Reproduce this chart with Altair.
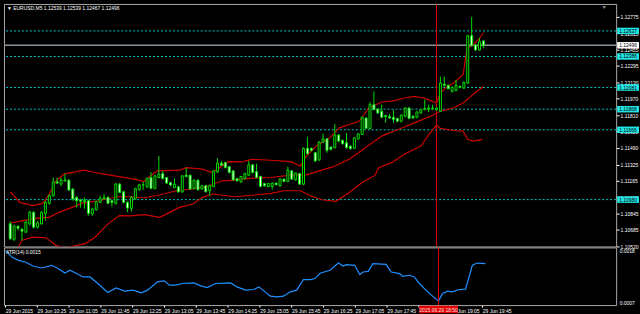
import altair as alt
import pandas as pd

FONT = "Liberation Sans"
GREEN = "#00dd00"
RED = "#cc0000"
CYAN = "#00c8c8"
BOX_CYAN = "#22e6e6"

# ---------------- data ----------------
bars = list(range(1, 123))  # M5 bars, 09:45 .. 19:50, 29 Jun 2015
opens = [1.10742,1.10589,1.10719,1.10689,1.10660,1.10742,1.10855,1.10709,1.10742,1.10845,
         1.10943,1.11018,1.11155,1.11132,1.11165,1.11171,1.11084,1.11002,1.10976,1.10969,
         1.10969,1.10840,1.10879,1.10953,1.10989,1.11002,1.10969,1.10943,1.11132,1.11057,
         1.10953,1.10894,1.10989,1.11077,1.11123,1.11106,1.11197,1.11089,1.11197,1.11236,
         1.11197,1.11148,1.11099,1.11106,1.11057,1.11220,1.11220,1.11089,1.11171,1.11084,
         1.11116,1.11067,1.11109,1.11252,1.11337,1.11343,1.11304,1.11262,1.11187,1.11155,
         1.11187,1.11220,1.11321,1.11255,1.11207,1.11138,1.11109,1.11109,1.11142,1.11116,
         1.11181,1.11158,1.11262,1.11174,1.11236,1.11132,1.11484,1.11484,1.11441,1.11370,
         1.11545,1.11577,1.11496,1.11490,1.11614,1.11562,1.11538,1.11506,1.11484,1.11577,
         1.11620,1.11782,1.11679,1.11913,1.11870,1.11848,1.11806,1.11796,1.11789,1.11777,
         1.11750,1.11799,1.11880,1.11799,1.11789,1.11831,1.11864,1.11870,1.11874,1.11864,
         1.11848,1.12114,1.12102,1.12043,1.12053,1.12092,1.12075,1.12124,1.12590,1.12499,
         1.12450,1.12539]
highs = [1.10767,1.10735,1.10725,1.10701,1.10774,1.10872,1.10867,1.10767,1.10867,1.10965,
         1.11033,1.11197,1.11197,1.11197,1.11236,1.11181,1.11091,1.11013,1.10989,1.11002,
         1.10979,1.10901,1.10969,1.11018,1.11035,1.11013,1.10979,1.11145,1.11145,1.11067,
         1.10965,1.11013,1.11096,1.11135,1.11155,1.11199,1.11252,1.11223,1.11409,1.11262,
         1.11204,1.11155,1.11187,1.11116,1.11223,1.11294,1.11228,1.11179,1.11179,1.11126,
         1.11126,1.11126,1.11272,1.11386,1.11360,1.11350,1.11311,1.11272,1.11194,1.11213,
         1.11243,1.11360,1.11331,1.11333,1.11213,1.11145,1.11145,1.11150,1.11150,1.11189,
         1.11189,1.11304,1.11272,1.11248,1.11243,1.11492,1.11597,1.11492,1.11448,1.11555,
         1.11630,1.11584,1.11506,1.11724,1.11623,1.11570,1.11636,1.11511,1.11594,1.11633,
         1.11799,1.11789,1.11939,1.12043,1.11877,1.11913,1.11814,1.11821,1.11858,1.11784,
         1.11819,1.11887,1.11887,1.11809,1.11848,1.11872,1.11962,1.11913,1.11913,1.11887,
         1.12189,1.12189,1.12111,1.12092,1.12157,1.12102,1.12141,1.12599,1.12775,1.12507,
         1.12570,1.12539]
lows = [1.10584,1.10574,1.10677,1.10579,1.10650,1.10725,1.10696,1.10696,1.10735,1.10774,
        1.10930,1.11008,1.11135,1.11116,1.11155,1.11067,1.10969,1.10901,1.10901,1.10891,
        1.10823,1.10823,1.10872,1.10945,1.10979,1.10935,1.10911,1.10930,1.11043,1.10945,
        1.10855,1.10862,1.10979,1.11067,1.11074,1.11096,1.11082,1.11082,1.11189,1.11179,
        1.11135,1.11116,1.11091,1.11047,1.11047,1.11199,1.11077,1.11082,1.11067,1.11077,
        1.11052,1.11018,1.11101,1.11243,1.11311,1.11287,1.11238,1.11165,1.11155,1.11145,
        1.11179,1.11213,1.11238,1.11189,1.11101,1.11106,1.11101,1.11077,1.11121,1.11106,
        1.11150,1.11150,1.11174,1.11165,1.11126,1.11121,1.11423,1.11453,1.11350,1.11360,
        1.11535,1.11441,1.11462,1.11482,1.11545,1.11521,1.11482,1.11472,1.11477,1.11570,
        1.11614,1.11672,1.11672,1.11858,1.11823,1.11784,1.11734,1.11775,1.11734,1.11740,
        1.11740,1.11789,1.11770,1.11775,1.11779,1.11823,1.11858,1.11841,1.11862,1.11853,
        1.11843,1.12092,1.12063,1.12033,1.12043,1.12072,1.12067,1.12116,1.12482,1.12443,
        1.12443,1.12467]
closes = [1.10596,1.10719,1.10699,1.10670,1.10758,1.10855,1.10709,1.10752,1.10855,1.10953,
          1.11018,1.11155,1.11142,1.11171,1.11174,1.11074,1.10986,1.10969,1.10963,1.10960,
          1.10845,1.10888,1.10960,1.10992,1.10999,1.10943,1.10953,1.11132,1.11050,1.10953,
          1.10898,1.11002,1.11087,1.11126,1.11126,1.11187,1.11089,1.11213,1.11230,1.11187,
          1.11142,1.11123,1.11132,1.11057,1.11213,1.11207,1.11084,1.11171,1.11077,1.11116,
          1.11057,1.11116,1.11262,1.11337,1.11318,1.11294,1.11246,1.11174,1.11165,1.11207,
          1.11236,1.11321,1.11246,1.11197,1.11109,1.11116,1.11138,1.11142,1.11126,1.11181,
          1.11158,1.11269,1.11181,1.11240,1.11132,1.11484,1.11431,1.11464,1.11360,1.11545,
          1.11577,1.11464,1.11474,1.11614,1.11555,1.11529,1.11490,1.11480,1.11587,1.11626,
          1.11789,1.11679,1.11913,1.11864,1.11831,1.11789,1.11796,1.11782,1.11767,1.11750,
          1.11809,1.11880,1.11777,1.11782,1.11841,1.11864,1.11874,1.11880,1.11880,1.11880,
          1.12124,1.12102,1.12069,1.12082,1.12102,1.12082,1.12131,1.12590,1.12492,1.12450,
          1.12531,1.12496]

# Bollinger bands (20, 2) read at bar positions
upper_x = [1,3.5,6.8,9.3,11,12.7,14.75,19.75,22.7,27.7,32.7,35.2,38.5,44.3,46,50.2,52.7,56.8,60.2,62.7,
           67.7,72.7,75.2,76.4,79.3,82.7,85.2,87.7,90.2,92.7,96,99.3,101.8,104.3,106.8,108.5,110,111,112.7,114.3,
           116.8,117.8,119.3,121,122]
upper_y = [1.11057,1.10953,1.10921,1.10943,1.11035,1.11165,1.11230,1.11269,1.11246,1.11213,
           1.11181,1.11158,1.11262,1.11269,1.11294,1.11279,1.11246,1.11353,1.11350,1.11376,
           1.11367,1.11353,1.11311,1.11392,1.11506,1.11587,1.11685,1.11718,1.11750,1.11880,
           1.11939,1.11952,1.11978,1.11994,1.11978,1.11952,1.11929,1.12026,1.12092,1.12124,
           1.12206,1.12466,1.12499,1.12563,1.12622]
mid_x = [1,4.3,8.5,11,13.5,16.8,19.3,23.5,28.5,31.8,35.2,39.3,43.5,47.7,51.8,55.2,58.5,62.7,67.7,72.7,
         76.8,79.3,83.5,87.7,91.8,96,100.2,104.3,108.5,111,114.3,116.8,119.3,122]
mid_y = [1.10748,1.10774,1.10801,1.10806,1.10855,1.10904,1.10943,1.10969,1.11008,1.11008,
         1.10996,1.11028,1.11067,1.11084,1.11116,1.11165,1.11171,1.11191,1.11197,1.11220,
         1.11223,1.11255,1.11301,1.11376,1.11490,1.11604,1.11669,1.11734,1.11799,1.11848,
         1.11880,1.11929,1.12011,1.12092]
low_x = [1,3.1,3.9,6.8,10.2,12.7,14.75,16.8,20.2,22.7,26,28.9,31.8,35.2,39.3,41,44.3,47.7,50.2,52.7,
         58.5,62.7,67.7,71,75.2,77.7,81,84.3,87.7,91,94.3,95.2,98.5,101.8,106,108.1,110,111,114.3,116.8,
         118,119.3,121.8]
low_y = [1.10364,1.10514,1.10579,1.10611,1.10605,1.10530,1.10508,1.10520,1.10547,1.10611,
         1.10742,1.10823,1.10820,1.10833,1.10806,1.10840,1.10904,1.10937,1.11002,1.11035,
         1.11008,1.11023,1.11041,1.11067,1.11067,1.11018,1.10976,1.10963,1.11050,1.11148,
         1.11220,1.11294,1.11343,1.11425,1.11506,1.11620,1.11711,1.11679,1.11659,1.11653,
         1.11572,1.11555,1.11572]

# ATR(14)
atr_x = [1,2.7,4.3,6,8.1,10.2,12.7,14.3,16,17.3,18.9,20.6,22.3,24.3,26.8,28.9,31,33.1,35.2,36.8,
         39.3,41,42.3,43.9,45.6,48.5,50.2,51.8,53.9,57.7,59.3,61.4,63.5,64.8,67.7,69.3,71,72.7,74.3,76,
         77.7,78.9,80.2,82.7,84.8,86,86.8,88.9,90.2,91,92.3,93.5,96.8,98.1,100.2,101,102.7,103.9,105.2,106.8,
         108.5,110,111,112.3,113.5,115.2,116.8,118.5,119.8,121.8]
atr_v = [0.001800,0.001658,0.001589,0.001553,0.001462,0.001426,0.001483,0.001413,0.001320,0.001377,
         0.001307,0.001235,0.001235,0.001096,0.000905,0.001003,0.000933,0.000954,0.000897,0.000954,
         0.001130,0.001151,0.001060,0.001060,0.001096,0.001108,0.001045,0.001011,0.001096,0.001108,
         0.001024,0.000954,0.000969,0.001024,0.000827,0.000812,0.000827,0.000918,0.000954,0.001180,
         0.001180,0.001201,0.001313,0.001377,0.001531,0.001468,0.001497,0.001483,0.001286,0.001341,
         0.001355,0.001519,0.001504,0.001341,0.001307,0.001250,0.001271,0.001235,0.001096,0.000954,
         0.000827,0.000721,0.000884,0.000933,0.000918,0.000969,0.000976,0.001483,0.001531,0.001519]

# horizontal levels drawn on the chart and the bid
levels = [1.12637, 1.12386, 1.12081, 1.11868, 1.11666, 1.10980]
bid = 1.12496
cursor_bar = 110
cursor_label = "2015.06.29 18:50"

price_ticks = [1.12775, 1.12615, 1.12455, 1.12295, 1.12130, 1.11970, 1.11810, 1.11650,
               1.11490, 1.11325, 1.11165, 1.11005, 1.10845, 1.10685, 1.10520]
atr_ticks = [0.0018, 0.0007]
time_ticks = [1, 9, 17, 25, 33, 41, 49, 57, 65, 73, 81, 89, 97, 105, 113, 121]
time_labels = ["29 Jun 2015", "29 Jun 10:25", "29 Jun 11:05", "29 Jun 11:45", "29 Jun 12:25",
               "29 Jun 13:05", "29 Jun 13:45", "29 Jun 14:25", "29 Jun 15:05", "29 Jun 15:45",
               "29 Jun 16:25", "29 Jun 17:05", "29 Jun 17:45", "29 Jun 18:25", "29 Jun 19:05",
               "29 Jun 19:45"]
title_text = "\u25bc EURUSD,M5 1.12539 1.12539 1.12467 1.12496"
atr_title = "ATR(14) 0.0015"

# ---------------- chart ----------------
W, H_MAIN, H_ATR = 616, 244, 58
xs = alt.Scale(domain=[0.675, 154.675], nice=False, zero=False)
ys = alt.Scale(domain=[1.10520, 1.12902], nice=False, zero=False)
ys_atr = alt.Scale(domain=[0.000637, 0.001863], nice=False, zero=False)

candles = pd.DataFrame({"bar": bars, "open": opens, "high": highs, "low": lows, "close": closes})
candles["fill"] = ["black" if c >= o else "white" for o, c in zip(opens, closes)]

bands = pd.DataFrame({
    "bar": upper_x + mid_x + low_x,
    "price": upper_y + mid_y + low_y,
    "band": ["upper"] * len(upper_x) + ["mid"] * len(mid_x) + ["lower"] * len(low_x),
})

lvl = pd.DataFrame({"price": levels + [bid],
                    "label": [f"{v:.5f}" for v in levels + [bid]],
                    "box": [BOX_CYAN] * len(levels) + ["white"]})
lvl_only = pd.DataFrame({"price": levels})
cursor = pd.DataFrame({"bar": [cursor_bar], "label": [cursor_label]})

yaxis = alt.Axis(orient="right", values=price_ticks, format=".5f", labelFontSize=5,
                 labelFont=FONT, labelColor="white", tickColor="white", tickSize=3,
                 labelPadding=1, domain=False, grid=False, title=None,
                 labelOverlap=False, labelFlush=False)

X = alt.X("bar:Q", scale=xs, axis=None)


def Y(field):
    # every layer carries the identical axis spec so the merged axis keeps it
    return alt.Y(field, scale=ys, axis=yaxis, title=None)


hl = alt.Chart(lvl_only).mark_rule(color=CYAN, strokeDash=[2, 2], strokeWidth=1).encode(
    y=Y("price:Q"))
bidline = alt.Chart(pd.DataFrame({"price": [bid]})).mark_rule(
    color="#8a949e", strokeWidth=1.5).encode(y=Y("price:Q"))
vline = alt.Chart(cursor).mark_rule(color="#e00000", strokeWidth=1).encode(x=X)
band_lines = alt.Chart(bands).mark_line(color=RED, strokeWidth=1.2, clip=True).encode(
    x=X, y=Y("price:Q"), detail="band:N", order="bar:Q")
wicks = alt.Chart(candles).mark_rule(color=GREEN, strokeWidth=1).encode(
    x=X, y=Y("low:Q"), y2="high:Q")
bodies = alt.Chart(candles).mark_bar(size=2, stroke=GREEN, strokeWidth=1).encode(
    x=X, y=Y("open:Q"), y2="close:Q", fill=alt.Fill("fill:N", scale=None))
boxes = alt.Chart(lvl).mark_tick(orient="horizontal", size=22, thickness=6.5, opacity=1).encode(
    x=alt.value(W + 12), y=Y("price:Q"), color=alt.Color("box:N", scale=None))
box_text = alt.Chart(lvl).mark_text(align="left", baseline="middle", fontSize=5, font=FONT,
                                    color="black").encode(
    x=alt.value(W + 3), y=Y("price:Q"), text="label:N")
title = alt.Chart(pd.DataFrame({"t": [title_text]})).mark_text(
    align="left", baseline="middle", fontSize=5, font=FONT, color="white").encode(
    x=alt.value(3), y=alt.value(4), text="t:N")
shift_mark = alt.Chart(pd.DataFrame({"t": ["\u25bc"]})).mark_text(
    align="center", baseline="middle", fontSize=5, color="#a0a0a0").encode(
    x=alt.value(604), y=alt.value(3), text="t:N")

main = alt.layer(hl, bidline, vline, band_lines, wicks, bodies, boxes, box_text,
                 title, shift_mark).properties(width=W, height=H_MAIN)

# ATR panel
atr_df = pd.DataFrame({"bar": atr_x, "atr": atr_v})
labels_js = "[" + ",".join(f"'{s}'" for s in time_labels) + "]"
ticks_js = "[" + ",".join(str(b) for b in time_ticks) + "]"
xaxis = alt.Axis(values=time_ticks, labelExpr=f"{labels_js}[indexof({ticks_js}, datum.value)]",
                 labelAlign="left", labelFontSize=5, labelFont=FONT, labelColor="white",
                 tickColor="white", tickSize=2, labelPadding=1, domain=False, grid=False,
                 title=None, labelOverlap=False, labelFlush=False)
atr_axis = alt.Axis(orient="right", values=atr_ticks, format=".4f", labelFontSize=5,
                    labelFont=FONT, labelColor="white", tickSize=0, labelPadding=3,
                    domain=False, grid=False, title=None, labelOverlap=False, labelFlush=False)

XA = alt.X("bar:Q", scale=xs, axis=xaxis, title=None)

atr_line = alt.Chart(atr_df).mark_line(color="#1e90ff", strokeWidth=1.2).encode(
    x=XA, y=alt.Y("atr:Q", scale=ys_atr, axis=atr_axis, title=None))
atr_vline = alt.Chart(cursor).mark_rule(color="#e00000", strokeWidth=1).encode(x=XA)
cur_box = alt.Chart(cursor).mark_tick(orient="horizontal", size=39, thickness=7.5,
                                      opacity=1, color="#e00000").encode(
    x=XA, y=alt.value(H_ATR + 4.5))
cur_text = alt.Chart(cursor).mark_text(align="center", baseline="middle", fontSize=5,
                                       font=FONT, color="#ffe0e0").encode(
    x=XA, y=alt.value(H_ATR + 4.5), text="label:N")
atr_title_m = alt.Chart(pd.DataFrame({"t": [atr_title]})).mark_text(
    align="left", baseline="middle", fontSize=5, font=FONT, color="white").encode(
    x=alt.value(2), y=alt.value(5), text="t:N")

atr = alt.layer(atr_line, atr_vline, atr_title_m, cur_box, cur_text).properties(
    width=W, height=H_ATR)

chart = alt.vconcat(main, atr, spacing=1, bounds="flush").properties(
    background="black",
    padding={"left": 2, "top": 2, "right": 0, "bottom": 0},
).configure_view(stroke="#a8a8a8", strokeWidth=1)

chart.save("out.html", embed_options={"renderer": "svg", "actions": False})
